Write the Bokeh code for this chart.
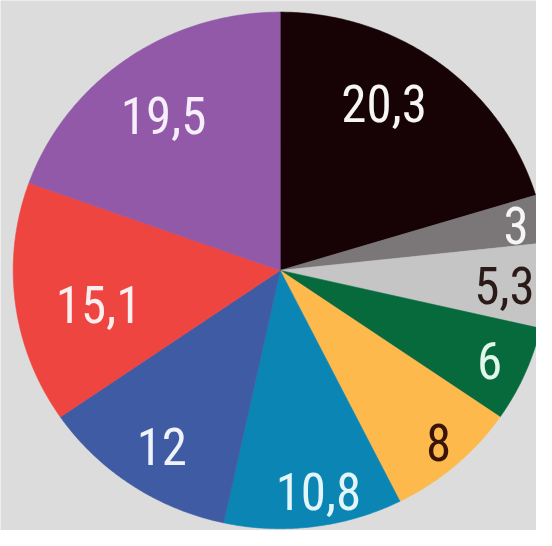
import numpy as np
from bokeh.plotting import figure
from bokeh.models import Range1d, ColumnDataSource
from bokeh.core.properties import value
from bokeh.embed import file_html
from bokeh.resources import INLINE

# ---- data ----
labels = ["20,3", "3", "5,3", "6", "8", "10,8", "12", "15,1", "19,5"]
shares = [20.3, 3.0, 5.3, 6.0, 8.0, 10.8, 12.0, 15.1, 19.5]

# ---- styles / layout ----
colors = ["#170305", "#7b7778", "#c6c5c6", "#066a3d", "#fdb94b",
          "#0b86b4", "#3f5ba3", "#ee4541", "#9159a8"]
text_colors = ["#f6f6f6", "#f6f6f6", "#2a1a18", "#e2f7ec", "#3a1408",
               "#e2f5f8", "#f0f2fa", "#fbeeee", "#f6eefa"]
label_r = [0.755, 0.90, 0.842, 0.858, 0.893, 0.868, 0.813, 0.693, 0.743]
label_da = [-5.5, 0.5, 0.6, 0.2, -0.6, -2.3, -0.8, -3.6, -0.9]
BG = "#dcdcdc"
RX, RY = 267.0, 258.3      # pixel radii (slightly elliptical, as photographed)
CX, CY = 279.7, 269.9      # centre in figure pixels (from top-left)
W, H = 536, 530

p = figure(width=W, height=H, output_backend="svg", toolbar_location=None,
           x_range=Range1d(-CX / RX, (W - CX) / RX),
           y_range=Range1d(-(H - CY) / RY, CY / RY),
           min_border=0, background_fill_color=BG, border_fill_color=BG,
           outline_line_color=None)
p.axis.visible = False
p.grid.visible = False

vals = np.array(shares, dtype=float)
edges = np.concatenate([[0.0], np.cumsum(vals)]) / vals.sum() * 360.0

xs, ys = [], []
for a0, a1 in zip(edges[:-1], edges[1:]):
    t = np.radians(np.linspace(a0, a1, max(int((a1 - a0) * 2), 4)))
    xs.append(np.concatenate([[0.0], np.sin(t)]).tolist())
    ys.append(np.concatenate([[0.0], np.cos(t)]).tolist())

src = ColumnDataSource(dict(xs=xs, ys=ys, fill=colors))
p.patches("xs", "ys", source=src, fill_color="fill", line_color="fill",
          line_width=0.6)

mid = (edges[:-1] + edges[1:]) / 2.0 + np.array(label_da)
tr = np.radians(mid)
lx = np.array(label_r) * np.sin(tr)
ly = np.array(label_r) * np.cos(tr)
lsrc = ColumnDataSource(dict(x=lx, y=ly, t=labels, c=text_colors))
p.text("x", "y", text="t", source=lsrc, text_color="c",
       text_font=value("Roboto Condensed"),
       text_font_size="51px",
       text_align="center", text_baseline="middle")

open("out.html", "w").write(file_html(p, INLINE))
